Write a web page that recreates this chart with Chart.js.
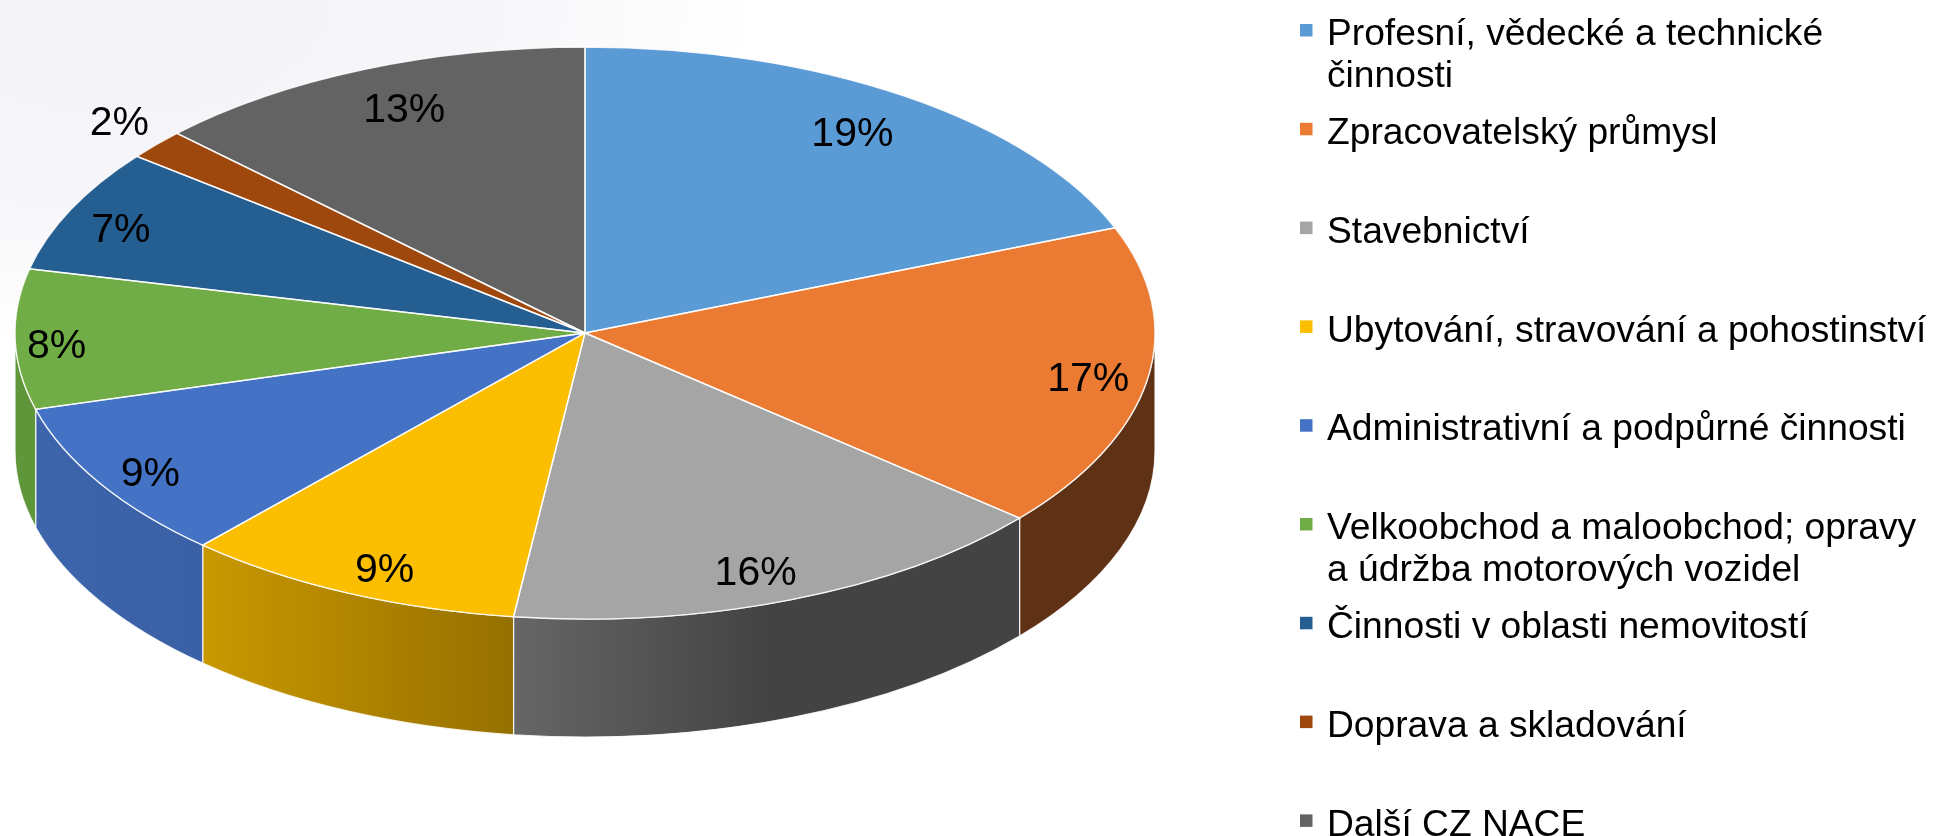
<!DOCTYPE html>
<html lang="cs">
<head>
<meta charset="utf-8">
<title>CZ NACE</title>
<script src="https://cdn.jsdelivr.net/npm/chart.js@4"></script>
<style>
  html, body { margin: 0; padding: 0; background: #fff; }
  #wrap {
    position: relative; width: 1935px; height: 836px; overflow: hidden;
    background: radial-gradient(ellipse 640px 350px at 120px 0, #f4f4f8 0, #f6f6fa 55%, #fbfbfc 80%, #ffffff 100%) no-repeat;
  }
  canvas { display: block; }
</style>
</head>
<body>
<div id="wrap"><canvas id="pie" width="1935" height="836"></canvas></div>
<script>
const categories = [
  'Profesní, vědecké a technické činnosti',
  'Zpracovatelský průmysl',
  'Stavebnictví',
  'Ubytování, stravování a pohostinství',
  'Administrativní a podpůrné činnosti',
  'Velkoobchod a maloobchod; opravy a údržba motorových vozidel',
  'Činnosti v oblasti nemovitostí',
  'Doprava a skladování',
  'Další CZ NACE'
];
// slice sizes, the printed labels are rounded differently
const shares = [19.0, 17.2, 15.8, 9.7, 9.0, 7.9, 7.0, 1.7, 12.7];
const percentLabels = ['19%', '17%', '16%', '9%', '9%', '8%', '7%', '2%', '13%'];
const topColors = ['#5B9BD5', '#EB7B32', '#A5A5A5', '#FCBE00', '#4472C4', '#70AD47', '#255E91', '#9E480E', '#636363'];
const wallLeft = ['#4a7fae', '#5f3115', '#666666', '#c99800', '#3d65ac', '#5f963a', '#1e4d77', '#7f3a0b', '#505050'];
const wallRight = ['#4a7fae', '#5f3115', '#434343', '#967000', '#3a60a5', '#5f963a', '#1e4d77', '#7f3a0b', '#505050'];
// how far along the radius each percentage sits, then a small hand nudge
const labelReach = [0.847, 0.893, 0.836, 0.893, 0.90, 0.929, 0.895, 1.10, 0.848];
const labelNudge = [[-4, -4], [1, -1], [-2, 12], [12, 0], [2, 1], [1, 2], [-4, 2], [6, -8], [7, -5]];

const RX = 570, RY = 286, DEPTH = 118;
const FONT = '"Liberation Sans", Arial, sans-serif';

const squash = (ctx, arc) => {
  ctx.translate(arc.x, arc.y);
  ctx.scale(RX / arc.outerRadius, RY / arc.outerRadius);
  ctx.translate(-arc.x, -arc.y);
};

const tiltedPie = {
  id: 'tiltedPie',
  beforeDatasetsDraw(chart) {
    const ctx = chart.ctx;
    const arcs = chart.getDatasetMeta(0).data;
    // front wall, only the part of each slice facing the viewer
    arcs.forEach((arc, i) => {
      const a0 = Math.max(arc.startAngle, 0);
      const a1 = Math.min(arc.endAngle, Math.PI);
      if (a1 <= a0) return;
      const xa = arc.x + RX * Math.cos(a0);
      const xb = arc.x + RX * Math.cos(a1);
      const grad = ctx.createLinearGradient(xb, 0, xa, 0);
      grad.addColorStop(0, wallLeft[i]);
      if (i === 2) grad.addColorStop(0.5, wallRight[i]);
      grad.addColorStop(1, wallRight[i]);
      ctx.beginPath();
      ctx.ellipse(arc.x, arc.y, RX, RY, 0, a0, a1);
      ctx.ellipse(arc.x, arc.y + DEPTH, RX, RY, 0, a1, a0, true);
      ctx.closePath();
      ctx.fillStyle = grad;
      ctx.fill();
      ctx.strokeStyle = 'rgba(255,255,255,0.85)';
      ctx.lineWidth = 1.2;
      ctx.stroke();
    });
    ctx.save();
    squash(ctx, arcs[0]);
  },
  afterDatasetsDraw(chart) {
    const ctx = chart.ctx;
    ctx.restore();
    const arcs = chart.getDatasetMeta(0).data;
    // slice outlines stay even in width, so stroke after leaving the squash
    arcs.forEach(arc => {
      ctx.save();
      squash(ctx, arc);
      ctx.beginPath();
      ctx.moveTo(arc.x, arc.y);
      ctx.arc(arc.x, arc.y, arc.outerRadius, arc.startAngle, arc.endAngle);
      ctx.closePath();
      ctx.restore();
      ctx.strokeStyle = 'rgba(255,255,255,0.85)';
      ctx.lineWidth = 1.4;
      ctx.stroke();
    });
    ctx.fillStyle = '#000';
    ctx.font = '41px ' + FONT;
    ctx.textAlign = 'center';
    ctx.textBaseline = 'middle';
    arcs.forEach((arc, i) => {
      const mid = (arc.startAngle + arc.endAngle) / 2;
      ctx.fillText(percentLabels[i],
        arc.x + RX * labelReach[i] * Math.cos(mid) + labelNudge[i][0],
        arc.y + RY * labelReach[i] * Math.sin(mid) + 6 + labelNudge[i][1]);
    });
  },
  afterDraw(chart) {
    const ctx = chart.ctx;
    const left = 1300, textLeft = 1327, firstY = 30, step = 98.8, maxWidth = 608, lineGap = 42;
    ctx.font = '37.2px ' + FONT;
    ctx.textAlign = 'left';
    ctx.textBaseline = 'middle';
    categories.forEach((name, i) => {
      const y = firstY + i * step;
      ctx.fillStyle = topColors[i];
      ctx.fillRect(left, y - 6, 12.5, 12.5);
      ctx.fillStyle = '#000';
      let line = '', row = 0;
      name.split(' ').forEach(word => {
        const test = line ? line + ' ' + word : word;
        if (ctx.measureText(test).width > maxWidth) {
          ctx.fillText(line, textLeft, y + 5 + row * lineGap);
          row++;
          line = word;
        } else {
          line = test;
        }
      });
      ctx.fillText(line, textLeft, y + 5 + row * lineGap);
    });
  }
};

new Chart(document.getElementById('pie'), {
  type: 'pie',
  data: {
    labels: categories,
    datasets: [{ data: shares, backgroundColor: topColors, borderWidth: 0, clip: false }]
  },
  options: {
    responsive: false,
    animation: false,
    layout: { padding: { right: 765, bottom: 170 } },
    plugins: { legend: { display: false }, tooltip: { enabled: false } }
  },
  plugins: [tiltedPie]
});
</script>
</body>
</html>
